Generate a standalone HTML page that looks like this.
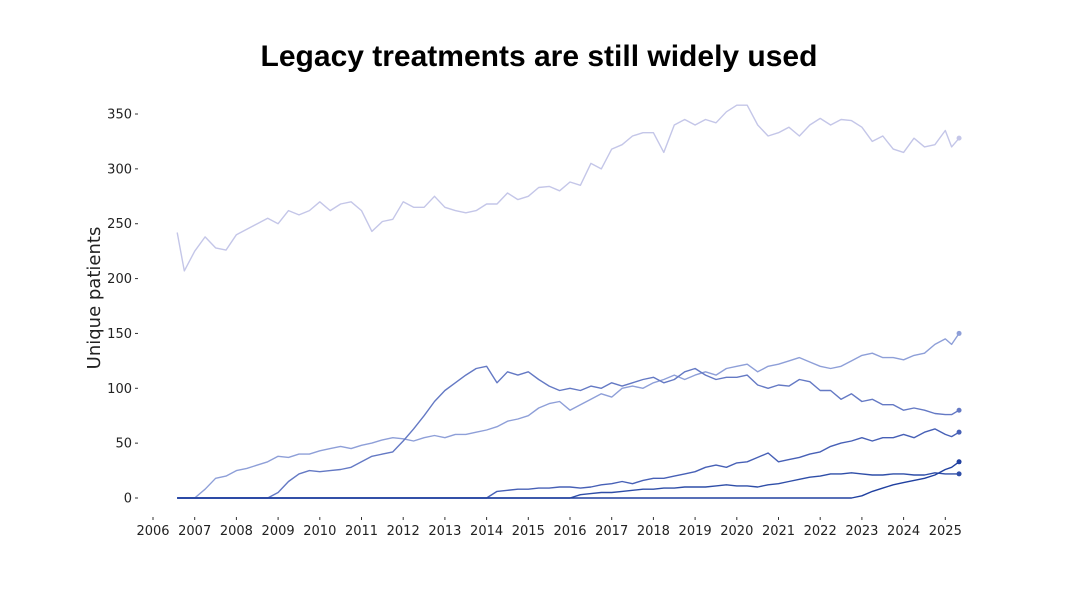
<!DOCTYPE html>
<html><head><meta charset="utf-8"><style>
html,body{margin:0;padding:0;background:#fff;width:1080px;height:608px;overflow:hidden}
</style></head><body>
<svg id="chart" width="1080" height="608" xmlns="http://www.w3.org/2000/svg">
<text x="539" y="66" text-anchor="middle" font-family="Liberation Sans, sans-serif" font-weight="bold" font-size="30" fill="#000">Legacy treatments are still widely used</text>
<text transform="translate(100,298) rotate(-90)" text-anchor="middle" font-family="DejaVu Sans, sans-serif" font-size="18" fill="#222">Unique patients</text>
<g id="axes"></g><g id="series"></g>
</svg>
<script>
const yTicks=[0,50,100,150,200,250,300,350];
const xTicks=[2006,2007,2008,2009,2010,2011,2012,2013,2014,2015,2016,2017,2018,2019,2020,2021,2022,2023,2024,2025];
const dates=[2006.58,2006.75];
for(let y=2007;y<=2025.001;y+=0.25)dates.push(+y.toFixed(2));
dates.push(2025.15,2025.33);
const seriesA=[242,207,225,238,228,226,240,245,250,255,250,262,258,262,270,262,268,270,262,243,252,254,270,265,265,275,265,262,260,262,268,268,278,272,275,283,284,280,288,285,305,300,318,322,330,333,333,315,340,345,340,345,342,352,358,358,340,330,333,338,330,340,346,340,345,344,338,325,330,318,315,328,320,322,335,320,328];
const seriesB=[0,0,0,8,18,20,25,27,30,33,38,37,40,40,43,45,47,45,48,50,53,55,54,52,55,57,55,58,58,60,62,65,70,72,75,82,86,88,80,85,90,95,92,100,102,100,105,108,112,108,112,115,112,118,120,122,115,120,122,125,128,124,120,118,120,125,130,132,128,128,126,130,132,140,145,140,150];
const seriesC=[0,0,0,0,0,0,0,0,0,0,5,15,22,25,24,25,26,28,33,38,40,42,52,63,75,88,98,105,112,118,120,105,115,112,115,108,102,98,100,98,102,100,105,102,105,108,110,105,108,115,118,112,108,110,110,112,103,100,103,102,108,106,98,98,90,95,88,90,85,85,80,82,80,77,76,76,80];
const seriesD=[0,0,0,0,0,0,0,0,0,0,0,0,0,0,0,0,0,0,0,0,0,0,0,0,0,0,0,0,0,0,0,6,7,8,8,9,9,10,10,9,10,12,13,15,13,16,18,18,20,22,24,28,30,28,32,33,37,41,33,35,37,40,42,47,50,52,55,52,55,55,58,55,60,63,58,56,60];
const seriesE=[0,0,0,0,0,0,0,0,0,0,0,0,0,0,0,0,0,0,0,0,0,0,0,0,0,0,0,0,0,0,0,0,0,0,0,0,0,0,0,3,4,5,5,6,7,8,8,9,9,10,10,10,11,12,11,11,10,12,13,15,17,19,20,22,22,23,22,21,21,22,22,21,21,23,22,22,22];
const seriesF=[0,0,0,0,0,0,0,0,0,0,0,0,0,0,0,0,0,0,0,0,0,0,0,0,0,0,0,0,0,0,0,0,0,0,0,0,0,0,0,0,0,0,0,0,0,0,0,0,0,0,0,0,0,0,0,0,0,0,0,0,0,0,0,0,0,0,2,6,9,12,14,16,18,21,26,28,33];
const NS="http://www.w3.org/2000/svg";
const xS=v=>153+(v-2006)*41.7;
const yS=v=>498-v*1.0971;
const axes=document.getElementById('axes'),sg=document.getElementById('series');
function mk(tag,attrs,parent){const e=document.createElementNS(NS,tag);for(const k in attrs)e.setAttribute(k,attrs[k]);parent.appendChild(e);return e;}
yTicks.forEach(t=>{
 const l=mk('line',{x1:135,x2:138,y1:yS(t),y2:yS(t),stroke:'#333','stroke-width':1},axes);
 
 
 const tx=mk('text',{x:132,y:yS(t)+4.5,'text-anchor':'end','font-family':'DejaVu Sans, sans-serif','font-size':13,fill:'#222'},axes);
 tx.textContent=t;
 
 
});
xTicks.forEach(t=>{
 const l=mk('line',{x1:xS(t),x2:xS(t),y1:517,y2:520,stroke:'#333','stroke-width':1},axes);
 
 
 const tx=mk('text',{x:xS(t),y:535,'text-anchor':'middle','font-family':'DejaVu Sans, sans-serif','font-size':13,fill:'#222'},axes);
 tx.textContent=t;
 
 
});
const defs=[[seriesA,'#c4c6e8','series-a'],[seriesB,'#8e9fd8','series-b'],[seriesC,'#6479c4','series-c'],[seriesD,'#4760b6','series-d'],[seriesE,'#2f4ea8','series-e'],[seriesF,'#2040a0','series-f']];
defs.forEach(([vals,col,name])=>{
 const d=vals.map((v,i)=>(i?'L':'M')+xS(dates[i]).toFixed(1)+' '+yS(v).toFixed(1)).join(' ');
 const p=mk('path',{d:d,fill:'none',stroke:col,'stroke-width':1.4,'stroke-linejoin':'round'},sg);
 
 
 const n=vals.length-1;
 const c=mk('circle',{cx:xS(dates[n]),cy:yS(vals[n]),r:2.5,fill:col},sg);
 
 
});
</script>
</body></html>
